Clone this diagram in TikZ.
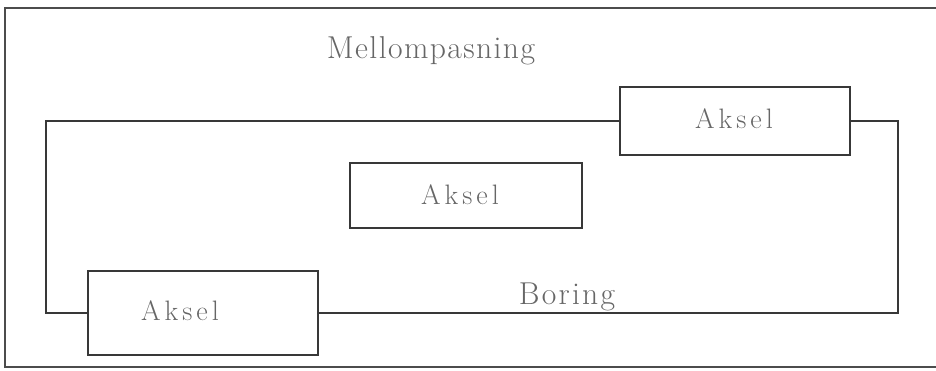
\documentclass[tikz,border=0pt]{standalone}
\newcommand{\aksellabel}{A\kern2.3pt k\kern2.3pt s\kern2.3pt e\kern2.3pt l}
\newcommand{\mellomlabel}{M\kern.8pt e\kern.8pt l\kern.8pt l\kern.8pt o\kern.8pt m\kern.8pt p\kern.8pt a\kern.8pt s\kern.8pt n\kern.8pt i\kern.8pt n\kern.8pt g}
\newcommand{\boringlabel}{B\kern1.3pt o\kern1.3pt r\kern1.3pt i\kern1.3pt n\kern1.3pt g}
\begin{document}
\begin{tikzpicture}[x=0.02cm,y=-0.02cm,
  ln/.style={draw=black!78,line width=1.1pt},
  box/.style={ln,rectangle,inner sep=0pt},
  lbl/.style={text=black!60,inner sep=0pt,anchor=base},
  big/.style={font=\fontsize{18}{21}\selectfont},
  mid/.style={font=\fontsize{16}{19}\selectfont}]
\useasboundingbox (0,0) rectangle (936,370);
% frame
\coordinate (ftr) at (936,8);
\coordinate (ftl) at (5,8);
\coordinate (fbl) at (5,367);
\coordinate (fbr) at (936,367);
\draw[ln,draw=black!70] (ftr) -- (ftl) -- (fbl) -- (fbr);
% boxes
\node[box,minimum width=4.6cm,minimum height=1.36cm] (b1) at (735,121) {};
\node[box,minimum width=4.64cm,minimum height=1.30cm] (b2) at (466,195.5) {};
\node[box,minimum width=4.60cm,minimum height=1.68cm] (b3) at (203,313) {};
% labels
\node[lbl,mid] (t1) at (734,128) {\aksellabel};
\node[lbl,mid] (t2) at (460,204) {\aksellabel};
\node[lbl,mid] (t3) at (180,320) {\aksellabel};
\node[lbl,big] (mp) at (431,58) {\mellomlabel};
\node[lbl,big] (bo) at (567,304) {\boringlabel};
% loop
\coordinate (c1) at (46,121);
\coordinate (c2) at (46,313);
\coordinate (c3) at (898,121);
\coordinate (c4) at (898,313);
\draw[ln] (b1.west) -- (c1) -- (c2) -- (b3.west);
\draw[ln] (b1.east) -- (c3) -- (c4) -- (b3.east);
\end{tikzpicture}
\end{document}
